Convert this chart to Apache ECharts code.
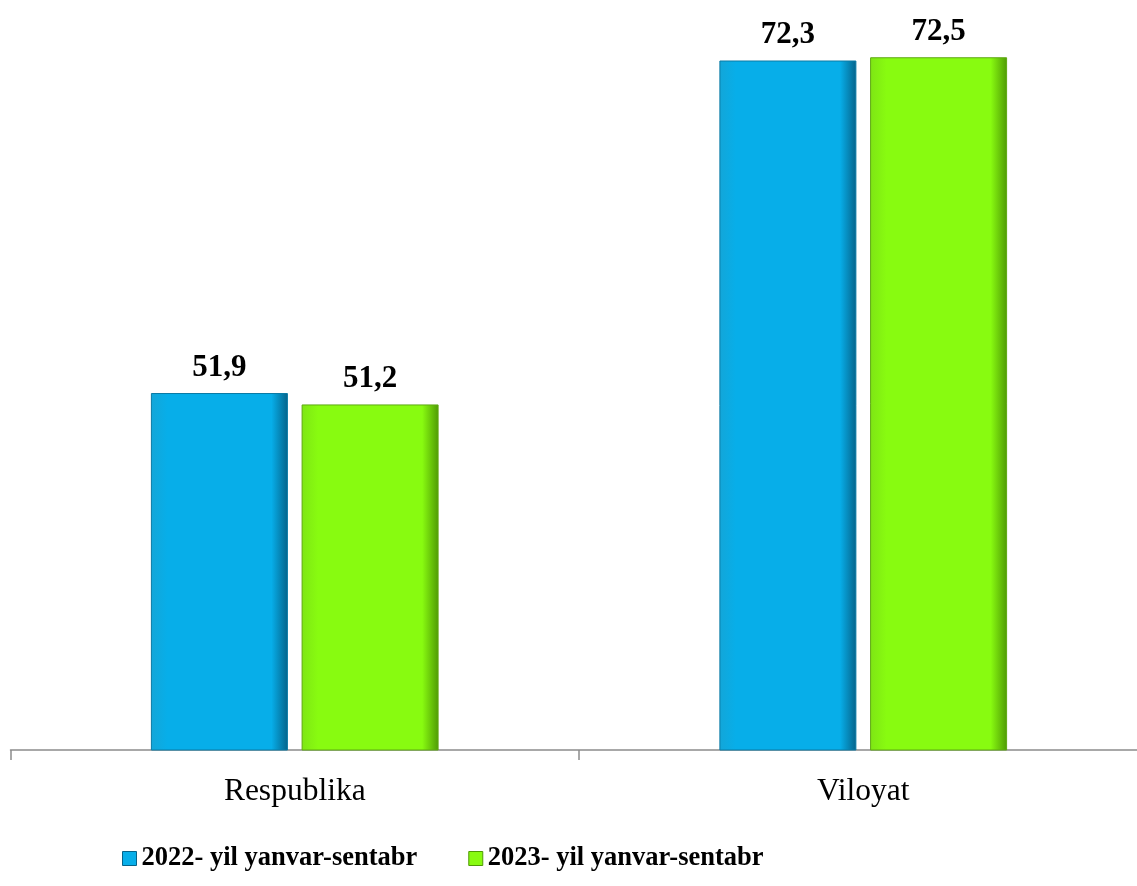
<!DOCTYPE html>
<html><head><meta charset="utf-8">
<script src="https://cdn.jsdelivr.net/npm/echarts@6/dist/echarts.min.js"></script>
<style>html,body{margin:0;padding:0;background:#fff}#c{width:1137px;height:886px}</style>
</head><body><div id="c"></div>
<script>
var categories = ['Respublika', 'Viloyat'];
var seriesNames = ['2022- yil yanvar-sentabr', '2023- yil yanvar-sentabr'];
var values2022 = [51.9, 72.3];
var values2023 = [51.2, 72.5];

function grad(light, main, dark) {
  return new echarts.graphic.LinearGradient(0, 0, 1, 0, [
    {offset: 0, color: light}, {offset: 0.12, color: main},
    {offset: 0.88, color: main}, {offset: 1, color: dark}
  ]);
}
var blue = grad('#13a6d8', '#07aee9', '#05638a');
var green = grad('#7ee614', '#88fb10', '#4f9a05');
var fmt = function (p) { return String(p.value).replace('.', ','); };
var labelStyle = {show: true, position: 'top', distance: 10, formatter: fmt,
  fontFamily: 'Liberation Serif', fontWeight: 'bold', fontSize: 31, color: '#000'};

var chart = echarts.init(document.getElementById('c'));
chart.setOption({
  animation: false,
  grid: {left: 10.5, width: 1137, top: 16.5, bottom: 136, containLabel: false, outerBoundsMode: 'none'},
  legend: {
    left: 117, top: 840, itemWidth: 14, itemHeight: 14, itemGap: 51, icon: 'rect',
    textStyle: {fontFamily: 'Liberation Serif', fontWeight: 'bold', fontSize: 26.5, color: '#000'},
    data: [{name: seriesNames[0], itemStyle: {color: '#07aee9', borderColor: '#05638a', borderWidth: 1}},
           {name: seriesNames[1], itemStyle: {color: '#88fb10', borderColor: '#4f9a05', borderWidth: 1}}]
  },
  xAxis: {
    type: 'category', data: categories,
    axisLine: {lineStyle: {color: '#8c8c8c', width: 1.5}},
    axisTick: {show: true, length: 10, lineStyle: {color: '#8c8c8c', width: 1.5}},
    axisLabel: {margin: 26, fontFamily: 'Liberation Serif', fontSize: 31.5, color: '#000'}
  },
  yAxis: {type: 'value', min: 30, max: 75, show: false, splitLine: {show: false}},
  series: [
    {name: seriesNames[0], type: 'bar', data: values2022, barWidth: 137, barGap: '10%',
     itemStyle: {color: blue, borderColor: '#0a7aa5', borderWidth: 1}, label: labelStyle},
    {name: seriesNames[1], type: 'bar', data: values2023, barWidth: 137,
     itemStyle: {color: green, borderColor: '#5ea812', borderWidth: 1}, label: labelStyle}
  ]
});
</script></body></html>
